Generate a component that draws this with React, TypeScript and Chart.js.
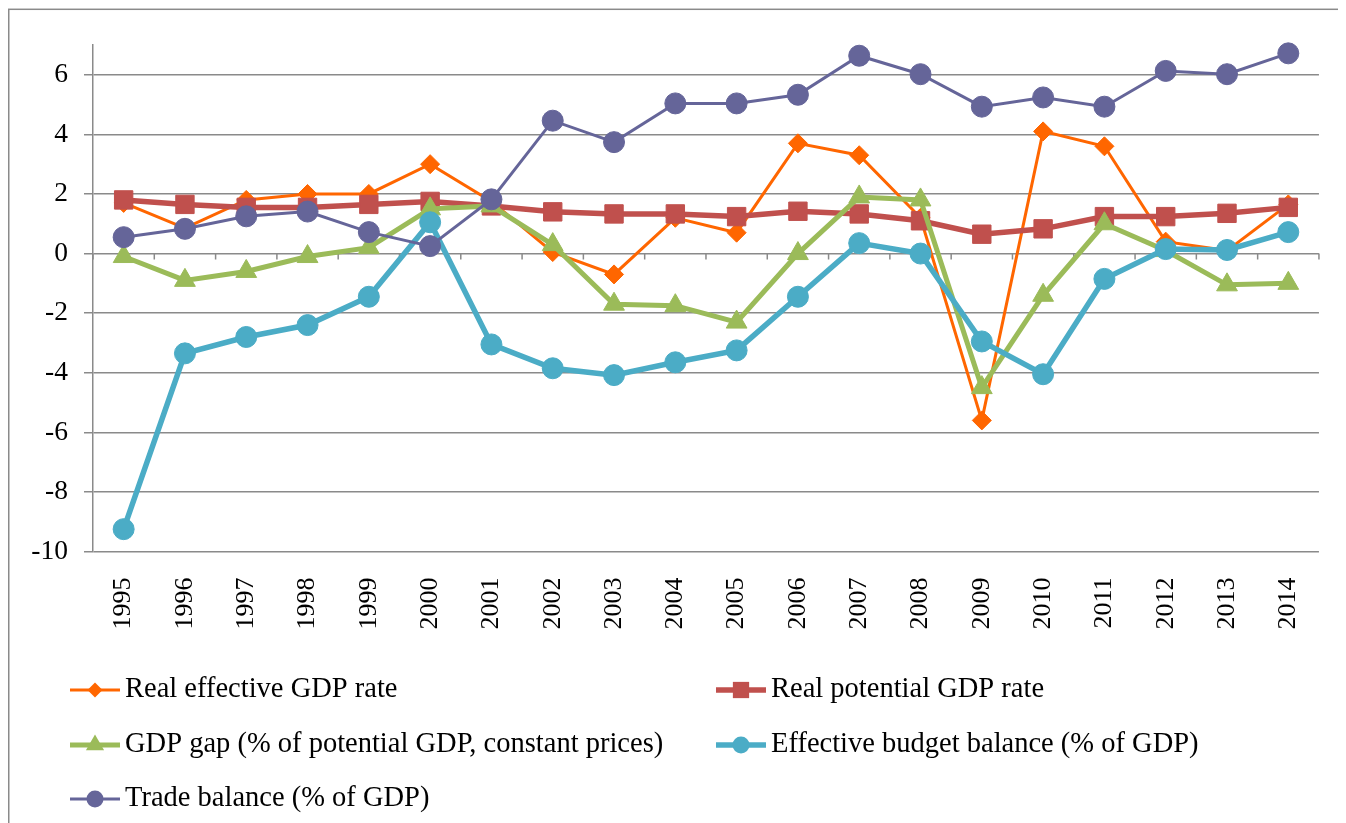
import React, { useEffect, useRef } from 'react';
import { Chart, registerables } from 'chart.js';

Chart.register(...registerables);

const years = ['1995', '1996', '1997', '1998', '1999', '2000', '2001', '2002', '2003', '2004', '2005', '2006', '2007', '2008', '2009', '2010', '2011', '2012', '2013', '2014'];
const realEffectiveGdp = [1.7, 0.85, 1.8, 2.0, 2.0, 3.0, 1.75, 0.05, -0.7, 1.2, 0.7, 3.7, 3.3, 1.2, -5.6, 4.1, 3.6, 0.4, 0.1, 1.65];
const realPotentialGdp = [1.8, 1.65, 1.55, 1.55, 1.65, 1.75, 1.6, 1.4, 1.33, 1.33, 1.24, 1.42, 1.33, 1.1, 0.65, 0.83, 1.24, 1.24, 1.35, 1.55];
const gdpGap = [-0.1, -0.9, -0.6, -0.1, 0.2, 1.5, 1.6, 0.3, -1.7, -1.75, -2.3, 0.0, 1.9, 1.8, -4.5, -1.4, 1.0, 0.1, -1.05, -1.0];
const budgetBalance = [-9.25, -3.35, -2.8, -2.4, -1.45, 1.05, -3.05, -3.85, -4.08, -3.65, -3.25, -1.45, 0.35, 0.0, -2.95, -4.05, -0.85, 0.15, 0.12, 0.72];
const tradeBalance = [0.55, 0.83, 1.25, 1.41, 0.72, 0.25, 1.82, 4.46, 3.74, 5.04, 5.04, 5.33, 6.64, 6.02, 4.93, 5.24, 4.93, 6.13, 6.02, 6.72];
const yTicks = [-10, -8, -6, -4, -2, 0, 2, 4, 6];

const FONT = "'Liberation Serif', 'Times New Roman', serif";
const GRID = '#8a8a8a';

const LEGEND_COLS = [62, 708];
const LEGEND_ROWS = [682, 737, 791];

function drawMarker(ctx: CanvasRenderingContext2D, style: string, x: number, y: number, r: number, color: string) {
  ctx.save();
  ctx.fillStyle = color;
  ctx.beginPath();
  if (style === 'rectRot') {
    ctx.moveTo(x, y - r);
    ctx.lineTo(x + r, y);
    ctx.lineTo(x, y + r);
    ctx.lineTo(x - r, y);
    ctx.closePath();
  } else if (style === 'rect') {
    const h = r * Math.SQRT1_2;
    ctx.rect(x - h, y - h, 2 * h, 2 * h);
  } else if (style === 'triangle') {
    ctx.moveTo(x, y - r);
    ctx.lineTo(x + r * 0.866, y + r * 0.5);
    ctx.lineTo(x - r * 0.866, y + r * 0.5);
    ctx.closePath();
  } else {
    ctx.arc(x, y, r, 0, Math.PI * 2);
  }
  ctx.fill();
  ctx.restore();
}

const framePlugin = {
  id: 'frame',
  beforeDraw(chart: any) {
    const { ctx, width } = chart;
    ctx.save();
    ctx.fillStyle = '#ffffff';
    ctx.fillRect(0, 0, width, chart.height);
    ctx.strokeStyle = '#8a8a8a';
    ctx.lineWidth = 1.5;
    ctx.strokeRect(0.75, 1.3, width - 1.5, chart.height + 20);
    ctx.restore();
  },
};

const zeroAxisPlugin = {
  id: 'zeroAxis',
  beforeDatasetsDraw(chart: any) {
    const x = chart.scales.x;
    const y = chart.scales.y;
    const ctx = chart.ctx;
    const n = years.length;
    const y0 = y.getPixelForValue(0);
    ctx.save();
    ctx.strokeStyle = GRID;
    ctx.lineWidth = 1.5;
    ctx.beginPath();
    for (let k = 0; k <= n; k++) {
      let px: number;
      if (k === 0) px = x.left;
      else if (k === n) px = x.right;
      else px = (x.getPixelForValue(k - 1) + x.getPixelForValue(k)) / 2;
      ctx.moveTo(px, y0);
      ctx.lineTo(px, y0 + 6);
    }
    ctx.stroke();
    ctx.restore();
  },
};

const legendPlugin = {
  id: 'gridLegend',
  afterDraw(chart: any) {
    const ctx = chart.ctx;
    chart.data.datasets.forEach((ds: any, i: number) => {
      const x = LEGEND_COLS[i % 2];
      const y = LEGEND_ROWS[Math.floor(i / 2)];
      ctx.save();
      ctx.strokeStyle = ds.borderColor;
      ctx.lineWidth = ds.borderWidth;
      ctx.beginPath();
      ctx.moveTo(x, y);
      ctx.lineTo(x + 50, y);
      ctx.stroke();
      drawMarker(ctx, ds.pointStyle, x + 25, y, ds.legendRadius, ds.pointBackgroundColor);
      ctx.fillStyle = '#000';
      ctx.font = `28.5px ${FONT}`;
      ctx.textBaseline = 'middle';
      ctx.textAlign = 'left';
      ctx.fillText(ds.label, x + 55, y);
      ctx.restore();
    });
  },
};

function series(label: string, data: number[], color: string, width: number, style: string, radius: number, legendRadius: number, order: number) {
  return {
    label,
    data,
    borderColor: color,
    backgroundColor: color,
    pointBackgroundColor: color,
    pointBorderColor: color,
    borderWidth: width,
    pointStyle: style,
    pointRadius: radius,
    pointBorderWidth: 1,
    pointHoverRadius: radius,
    legendRadius,
    tension: 0,
    fill: false,
    clip: false,
    order,
  };
}

export default function App() {
  const ref = useRef<HTMLCanvasElement>(null);
  useEffect(() => {
    document.documentElement.style.overflow = 'hidden';
    const chart = new Chart(ref.current as HTMLCanvasElement, {
      type: 'line',
      data: {
        labels: years,
        datasets: [
          series('Real effective GDP rate', realEffectiveGdp, '#ff6600', 3, 'rectRot', 9.5, 7.5, 4),
          series('Real potential GDP rate', realPotentialGdp, '#c0504d', 5.5, 'rect', 13, 11.5, 3),
          series('GDP gap (% of potential GDP, constant prices)', gdpGap, '#9bbb59', 5, 'triangle', 12, 10.5, 2),
          series('Effective budget balance (% of GDP)', budgetBalance, '#4bacc6', 5.5, 'circle', 10.5, 8.5, 1),
          series('Trade balance (% of GDP)', tradeBalance, '#656599', 3, 'circle', 10.5, 8.5, 0),
        ] as any,
      },
      options: {
        animation: false,
        responsive: true,
        maintainAspectRatio: false,
        events: [],
        layout: { padding: { top: 37, right: 20, bottom: 171.5, left: 0 } },
        plugins: { legend: { display: false }, tooltip: { enabled: false } },
        scales: {
          x: {
            offset: true,
            grid: { display: false, drawTicks: false },
            border: { display: false },
            ticks: {
              autoSkip: false,
              minRotation: 90,
              maxRotation: 90,
              padding: 26,
              color: '#000',
              font: { size: 26, family: FONT },
            },
            afterFit: (s: any) => {
              s.height = 100;
            },
          },
          y: {
            min: -10,
            max: 7,
            afterBuildTicks: (s: any) => {
              s.ticks = yTicks.map((v) => ({ value: v }));
            },
            ticks: {
              padding: 16,
              color: '#000',
              font: { size: 27.5, family: FONT },
            },
            grid: { color: GRID, lineWidth: 1.5, tickLength: 9, drawTicks: true },
            border: { color: GRID, width: 1.5 },
            afterFit: (s: any) => {
              s.width = 85;
            },
          },
        },
      } as any,
      plugins: [framePlugin, zeroAxisPlugin, legendPlugin],
    });
    return () => chart.destroy();
  }, []);
  return (
    <div style={{ position: 'relative', width: 1338, height: 815 }}>
      <canvas ref={ref} />
    </div>
  );
}
